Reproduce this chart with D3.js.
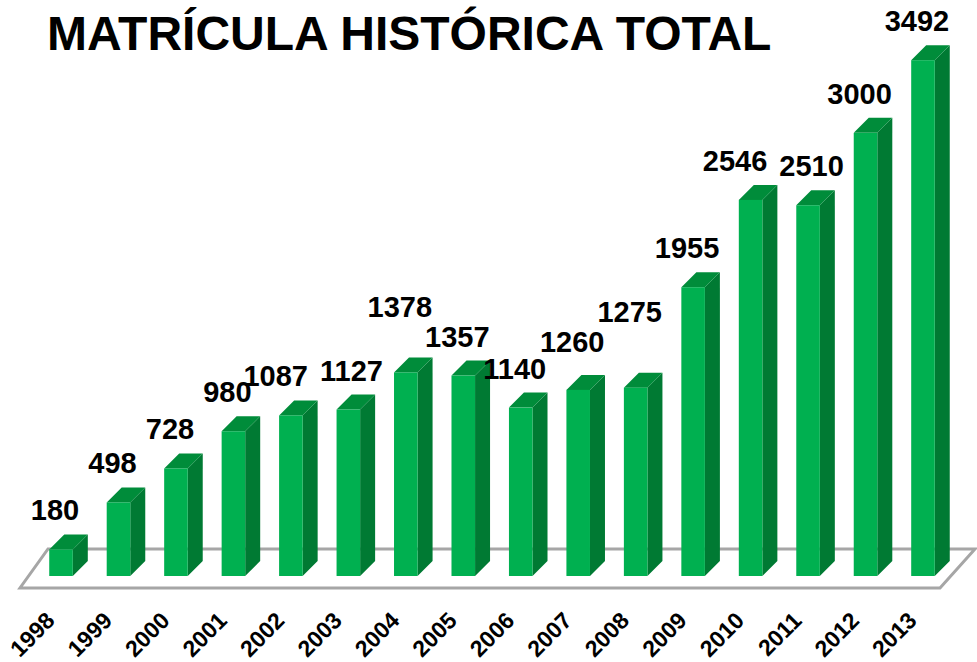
<!DOCTYPE html>
<html>
<head>
<meta charset="utf-8">
<script src="https://cdn.jsdelivr.net/npm/d3@7"></script>
<style>
  body { margin: 0; background: #fff; }
  svg { display: block; }
</style>
</head>
<body>
<script>
// data
var years = ["1998","1999","2000","2001","2002","2003","2004","2005",
             "2006","2007","2008","2009","2010","2011","2012","2013"];
var enrolment = [180, 498, 728, 980, 1087, 1127, 1378, 1357,
                 1140, 1260, 1275, 1955, 2546, 2510, 3000, 3492];
var chartTitle = "MATRÍCULA HISTÓRICA TOTAL";

var width = 977, height = 662,
	baseY = 576,      // bottom of the front faces
	depth = 15,       // 3d offset of the bars
	floorFront = 12, floorBack = 27,
	labelSize = 29, digitH = labelSize * 0.72;

var svg = d3.select("body").append("svg")
	.attr("width", width)
	.attr("height", height);

var xScale = d3.scaleBand()
	.domain(years)
	.range([32, 952])
	.paddingInner(0.59)
	.paddingOuter(0.3);

var yScale = d3.scaleLinear()
	.domain([0, 3500])
	.range([baseY, 59]);

var bw = xScale.bandwidth();
var data = years.map((y, i) => ({year: y, value: enrolment[i]}));

// floor
var fx0 = xScale.range()[0], fx1 = xScale.range()[1];
svg.append("path")
	.attr("d", "M" + (fx0 - 12) + "," + (baseY + floorFront) +
		"L" + (fx1 - 12) + "," + (baseY + floorFront) +
		"L" + (fx1 + 23) + "," + (baseY - floorBack) +
		"L" + (fx0 + 16) + "," + (baseY - floorBack) + "Z")
	.style("fill", "#fff")
	.style("stroke", "#a6a6a6")
	.style("stroke-width", 3)
	.style("stroke-linejoin", "miter");

// bars: side, top, front
var bars = svg.append("g").selectAll("g")
	.data(data)
	.enter().append("g");

bars.append("path")
	.attr("d", d => {
		var x = xScale(d.year) + bw, y = yScale(d.value);
		return "M" + x + "," + baseY + "L" + x + "," + y +
			"L" + (x + depth) + "," + (y - depth) +
			"L" + (x + depth) + "," + (baseY - depth) + "Z";
	})
	.style("fill", "#007a33");

bars.append("path")
	.attr("d", d => {
		var x = xScale(d.year), y = yScale(d.value);
		return "M" + x + "," + y + "L" + (x + depth) + "," + (y - depth) +
			"L" + (x + bw + depth) + "," + (y - depth) +
			"L" + (x + bw) + "," + y + "Z";
	})
	.style("fill", "#008c3a");

bars.append("rect")
	.attr("x", d => xScale(d.year))
	.attr("y", d => yScale(d.value))
	.attr("width", bw)
	.attr("height", d => baseY - yScale(d.value))
	.style("fill", "#00b050");

// value labels
var labels = svg.append("g").selectAll("text")
	.data(data)
	.enter().append("text")
	.attr("x", d => xScale(d.year) + bw / 2 - 6)
	.attr("y", d => yScale(d.value) - depth - 14)
	.attr("text-anchor", "middle")
	.style("font-family", "'Liberation Sans', Arial, sans-serif")
	.style("font-weight", "bold")
	.style("font-size", labelSize + "px")
	.style("fill", "#000")
	.text(d => d.value);

// keep neighbouring labels apart: nearly equal bars -> raise the taller one,
// level-ish bars -> push sideways, slight clash -> lift the taller clear
var nodes = labels.nodes();
for (var i = 1; i < nodes.length; i++) {
	var a = nodes[i - 1], b = nodes[i];
	var ba = a.getBBox(), bb = b.getBBox();
	var ya = +a.getAttribute("y"), yb = +b.getAttribute("y");
	var overlapX = ba.x + ba.width - bb.x;
	var overlapY = digitH - Math.abs(ya - yb);
	if (overlapX <= 0 || overlapY <= 0) continue;
	var da = data[i - 1], db = data[i];
	var hi = da.value > db.value ? a : b, lo = hi === a ? b : a;
	if (Math.abs(yScale(da.value) - yScale(db.value)) < 4.5) {
		d3.select(hi).attr("y", +lo.getAttribute("y") - 30);
	} else if (overlapY > 6) {
		var push = (overlapX + 12) / 2;
		d3.select(a).attr("x", +a.getAttribute("x") - push);
		d3.select(b).attr("x", +b.getAttribute("x") + push);
	} else {
		d3.select(hi).attr("y", +lo.getAttribute("y") - digitH - 6);
	}
}

// year labels
svg.append("g").selectAll("text")
	.data(data)
	.enter().append("text")
	.attr("transform", d => "translate(" + (xScale(d.year) + bw / 2 - 5) + ",622) rotate(-45)")
	.attr("text-anchor", "end")
	.style("font-family", "'Liberation Sans', Arial, sans-serif")
	.style("font-weight", "bold")
	.style("font-size", "23px")
	.text(d => d.year);

// title
svg.append("text")
	.attr("x", 47)
	.attr("y", 50)
	.style("font-family", "'Liberation Sans', Arial, sans-serif")
	.style("font-weight", "bold")
	.style("font-size", "48px")
	.text(chartTitle);
</script>
</body>
</html>
